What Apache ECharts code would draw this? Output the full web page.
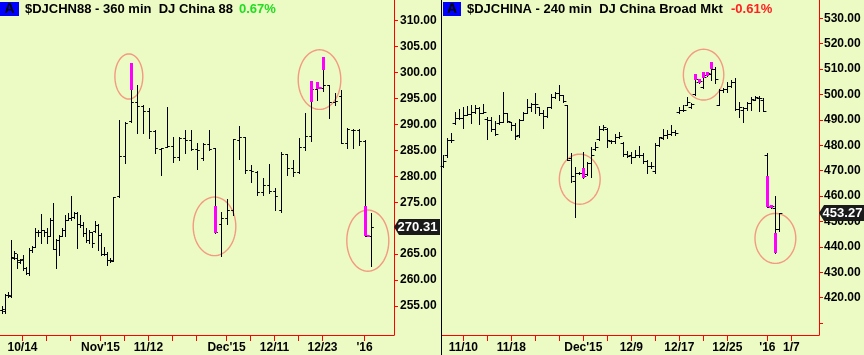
<!DOCTYPE html>
<html>
<head>
<meta charset="utf-8">
<script src="https://cdn.jsdelivr.net/npm/echarts@6/dist/echarts.min.js"></script>
<style>
html,body{margin:0;padding:0;background:#ecfac4;}
#c{width:864px;height:355px;}
</style>
</head>
<body>
<div id="c"></div>
<script>
// ---------- headers ----------
const leftTitle = '$DJCHN88 - 360 min  DJ China 88';
const leftChange = '0.67%';
const rightTitle = '$DJCHINA - 240 min  DJ China Broad Mkt';
const rightChange = '-0.61%';

// ---------- left panel ($DJCHN88, 360 min) ----------
// session index (half-session slots), then [open, high, low, close]
const leftSessions = [
  0,1,2,3,4,5,6,7,8,9,10,11,12,13,14,15,16,17,18,19,20,21,22,23,24,25,26,27,28,29,30,31,32,33,34,35,36,37,
  39,41,43,45,47,49,51,53,55,57,59,61,63,65,67,69,71,73,75,77,79,81,83,85,87,89,91,93,95,97,99,101,103,105,107,109,111,113,115,117,119,121,123
];
const leftOHLC = [
  [254.2,254.9,253.6,254.5],[254.0,257.4,253.6,257.1],[257.2,257.6,256.8,257.1],[256.9,267.7,256.8,264.4],
  [264.2,265.6,264.0,265.2],[264.2,265.0,262.3,263.9],[263.5,264.0,263.2,263.9],[264.0,264.8,261.9,262.3],
  [262.3,262.5,261.1,261.3],[261.3,266.1,261.0,265.8],[265.8,266.6,265.5,266.4],[266.4,270.0,266.4,269.3],
  [269.3,269.7,268.4,269.3],[269.3,272.7,267.2,269.7],[269.7,269.7,268.4,269.3],[269.3,270.0,267.1,268.4],
  [268.4,271.9,268.4,271.6],[271.6,274.8,265.9,266.0],[266.0,268.0,262.3,267.7],[267.7,268.7,264.8,268.4],
  [268.4,270.0,268.4,269.6],[269.6,272.5,268.4,271.6],[271.6,272.9,271.6,271.9],[271.9,276.2,271.6,272.2],
  [272.2,273.2,271.9,272.9],[272.9,273.2,266.2,270.9],[270.9,272.5,270.3,270.6],[270.6,271.1,268.4,269.0],
  [269.0,270.0,267.4,267.7],[267.7,269.7,267.1,269.3],[269.3,269.3,266.4,267.1],[269.5,271.3,269.3,270.6],
  [270.6,270.9,265.8,268.7],[268.7,269.0,264.8,265.0],[265.0,266.4,264.8,265.0],[265.0,265.5,262.9,263.9],
  [263.9,264.2,263.5,263.9],[263.7,276.1,263.7,276.1],
  [276.3,290.9,276.1,283.9],[283.9,290.5,282.6,290.3],[290.6,301.9,290.5,294.4],[294.4,297.6,288.4,293.6],
  [293.6,293.7,288.4,292.5],[292.5,293.1,287.3,288.8],[288.8,288.9,284.4,285.4],[285.3,285.4,280.2,285.4],
  [285.7,293.4,285.7,285.8],[285.8,287.6,282.8,283.8],[283.8,287.6,283.1,287.3],[287.3,288.9,284.4,287.0],
  [287.0,288.9,285.1,285.2],[285.2,286.5,281.5,285.1],[283.5,286.4,283.1,286.3],[286.3,288.9,285.1,285.2],
  [285.4,285.4,269.1,269.3],[270.9,273.2,264.6,271.9],[271.9,275.6,270.9,273.6],[273.6,287.1,272.5,287.1],
  [287.0,289.7,283.3,287.6],[287.6,287.6,280.6,281.2],[281.2,282.2,279.0,281.0],[280.8,281.0,276.4,277.0],
  [277.0,279.6,276.4,278.3],[278.3,282.3,276.8,277.2],[277.2,277.7,273.5,276.2],[273.5,284.6,273.2,284.3],
  [284.3,284.3,280.3,281.7],[281.7,283.1,280.1,280.8],[280.8,287.3,280.7,285.6],[285.6,292.3,285.1,287.8],
  [287.8,298.4,286.9,296.8],[296.8,298.1,294.7,297.0],[297.0,303.1,296.5,297.6],[297.6,297.6,291.2,294.4],
  [294.4,296.0,293.7,294.6],[295.5,296.6,286.4,286.4],[286.4,289.3,285.4,289.1],[289.0,289.1,285.4,289.0],
  [289.0,289.1,286.0,286.8],[286.8,287.0,268.4,268.4],[268.4,273.0,262.7,270.31]
];
// highlighted (magenta) bar segments: [session, from, to]
const leftHighlights = [[43,301.9,296.6],[71,274.3,269.1],[103,298.4,294.4],[105,298.1,296.8],[107,303.1,300.5],[121,274.3,268.4]];
const leftHighlightCloses = [105,121];
// annotation ellipses: [sessionFrom, sessionTo, priceTop, priceBottom]
const leftCircles = [[37.8,47.1,303.6,294.9],[63.9,78.1,276.0,264.7],[98.9,113.1,304.4,292.9],[115.1,129.1,273.5,261.7]];
const leftTickSessions = [7,15,23,33,41,49,57,65,75,83,91,99,107,121];
const leftLabelSessions = [7,33,49,75,91,107,121];
const leftLabelTexts = ['10/14',"Nov'15",'11/12',"Dec'15",'12/11','12/23',"'16"];
const leftPriceTicks = [255,260,265,270,275,280,285,290,295,300,305,310];

// ---------- right panel ($DJCHINA, 240 min) ----------
const rightSessions = [
  0,1,2,3,4,5,6,7,8,9,10,11,12,13,14,15,16,17,18,19,20,21,22,23,24,25,26,27,28,29,30,31,32,33,34,35,36,37,38,39,40,41,42,
  43,44,45,46,47,48,49,50,51,52,53,54,55,56,57,58,59,60,61,62,63,64,65,66,67,68,69,70,71,72,73,74,75,76,77,78,79,80,81,82,83,84
];
const rightOHLC = [
  [471.8,476.2,471.6,474.0],[476.0,482.7,475.5,482.1],[482.0,485.0,481.4,482.1],[488.6,493.2,488.4,490.6],
  [490.6,494.2,490.2,490.6],[490.6,495.2,486.7,491.9],[492.0,495.5,491.9,492.3],[492.3,495.9,488.6,493.2],
  [493.2,495.9,492.6,494.6],[494.6,495.2,488.4,492.8],[492.8,496.3,492.6,493.2],[490.5,491.3,482.4,490.0],
  [490.0,491.3,485.8,486.3],[486.3,489.7,484.1,484.5],[488.6,491.9,488.4,489.3],[489.3,501.1,489.3,492.6],
  [492.6,492.8,489.3,489.7],[489.3,489.3,486.0,488.0],[488.0,488.6,482.4,483.7],[484.0,490.2,483.4,490.0],
  [490.0,493.2,490.0,492.8],[492.8,498.1,492.6,495.2],[495.2,496.8,493.6,496.3],[496.3,500.5,492.6,496.3],
  [495.0,495.2,491.9,492.6],[492.6,493.9,486.7,491.5],[491.5,495.2,491.0,494.9],[494.9,500.2,494.6,499.1],
  [499.1,501.1,498.5,500.5],[500.5,503.7,497.8,499.8],[499.8,499.8,497.2,497.6],[495.9,495.9,474.2,474.2],
  [475.0,476.8,465.7,468.0],[466.0,471.6,451.6,469.0],[469.0,469.6,468.7,469.2],[469.0,477.5,467.2,468.0],
  [468.5,473.5,468.3,472.9],[472.9,479.5,467.4,476.2],[478.5,481.4,478.1,479.2],[482.5,487.6,482.1,486.3],
  [486.3,488.0,486.0,487.3],[486.5,486.7,479.2,482.1],[481.5,482.1,480.8,481.7],[481.7,484.5,480.8,483.1],
  [483.1,485.4,482.7,483.7],[481.0,481.4,475.8,476.4],[476.4,477.9,475.3,475.8],[476.0,477.5,473.2,475.5],
  [475.5,478.1,475.3,476.2],[476.2,479.7,475.5,476.2],[476.0,476.8,473.2,474.0],[474.0,474.2,469.0,471.8],
  [471.8,473.6,471.0,471.8],[470.0,480.8,469.2,480.1],[480.1,483.4,479.7,483.1],[483.0,486.3,482.3,484.1],
  [484.0,486.0,482.7,484.5],[484.5,488.0,484.1,485.4],[485.4,486.0,484.1,485.0],[493.0,495.2,492.6,493.9],
  [493.9,495.9,493.3,493.9],[496.0,498.9,495.9,497.2],[495.0,496.5,494.6,496.3],[500.0,508.1,499.8,506.0],
  [505.0,506.0,504.4,505.5],[503.0,509.0,502.4,507.0],[507.5,509.0,507.3,508.5],[508.0,512.9,505.7,510.0],
  [510.0,510.7,504.7,506.0],[496.0,502.0,495.9,501.8],[501.8,502.4,501.1,502.0],[502.0,505.1,501.1,503.4],
  [503.4,505.7,503.1,505.1],[505.0,506.4,493.9,494.2],[494.2,497.2,491.3,495.2],[494.0,495.2,489.3,494.6],
  [494.6,497.2,493.9,496.8],[496.8,498.9,493.9,498.1],[498.0,499.4,497.8,498.9],[498.5,499.4,493.3,498.5],
  [498.0,498.5,493.3,493.5],[476.0,476.8,455.8,455.8],[455.8,456.5,455.5,456.0],[455.5,460.0,437.7,447.0],
  [447.0,453.2,446.4,453.27]
];
const rightHighlights = [[35,470.9,467.3],[63,508.1,505.7],[64,506.0,504.4],[65,509.0,506.4],[66,509.0,507.3],[67,512.9,509.9],[81,467.9,455.8],[82,456.5,455.4],[83,445.6,437.7]];
const rightHighlightCloses = [81];
const rightCircles = [[29.0,39.2,476.5,456.8],[60.0,70.1,517.8,497.8],[77.9,88.1,453.2,433.5]];
const rightTickSessions = [5,11,17,23,29,35,41,47,53,59,65,71,81,87];
const rightLabelSessions = [5,17,35,47,59,71,81,87];
const rightLabelTexts = ['11/10','11/18',"Dec'15",'12/9','12/17','12/25',"'16",'1/7'];
const rightPriceTicks = [410,420,430,440,450,460,470,480,490,500,510,520,530];
const rightPriceLabels = [420,430,440,450,460,470,480,490,500,510,520,530];

// ---------- rendering ----------
const FONT = '"Liberation Sans", Arial, sans-serif';
const RED = '#ff0000';
const MAGENTA = '#ff00ff';

function ohlcRender(params, api) {
  const s = api.value(0);
  const o = api.value(1), h = api.value(2), l = api.value(3), c = api.value(4);
  const ph = api.coord([s, h]), pl = api.coord([s, l]);
  const po = api.coord([s, o]), pc = api.coord([s, c]);
  const slotPx = api.size([1, 0])[0];
  const t = Math.max(1.5, slotPx * 0.6);
  const cx = Math.round(ph[0]) + 0.5;
  const yy = v => Math.round(v) + 0.5;
  const st = {stroke: '#000', lineWidth: 1};
  return {type: 'group', children: [
    {type: 'line', shape: {x1: cx, y1: Math.round(ph[1]), x2: cx, y2: Math.round(pl[1]) + 1}, style: st},
    {type: 'line', shape: {x1: cx - 0.5 - t, y1: yy(po[1]), x2: cx - 0.5, y2: yy(po[1])}, style: st},
    {type: 'line', shape: {x1: cx + 0.5, y1: yy(pc[1]), x2: cx + 0.5 + t, y2: yy(pc[1])}, style: st}
  ]};
}

function makeHighlightRender(ohlcMap, closeList) {
  return function (params, api) {
    const s = api.value(0), a = api.value(1), b = api.value(2);
    const p1 = api.coord([s, a]), p2 = api.coord([s, b]);
    const x = Math.round(p1[0]);
    const slotPx = api.size([1, 0])[0];
    const t = Math.max(1.5, slotPx * 0.6);
    const children = [
      {type: 'rect', shape: {x: x - 1, y: Math.round(p1[1]), width: 3, height: Math.max(2, Math.round(p2[1]) - Math.round(p1[1]))}, style: {fill: MAGENTA}}
    ];
    if (closeList.indexOf(s) >= 0 && ohlcMap[s]) {
      const pc = api.coord([s, ohlcMap[s][3]]);
      children.push({type: 'rect', shape: {x: x + 2, y: Math.round(pc[1]) - 1, width: t + 1, height: 2}, style: {fill: MAGENTA}});
    }
    return {type: 'group', children};
  };
}

function ellipseRender(params, api) {
  const a = api.coord([api.value(0), api.value(2)]);
  const b = api.coord([api.value(1), api.value(3)]);
  const cx = (a[0] + b[0]) / 2, cy = (a[1] + b[1]) / 2;
  const rx = Math.abs(b[0] - a[0]) / 2, ry = Math.abs(b[1] - a[1]) / 2;
  const pts = [];
  for (let i = 0; i < 72; i++) {
    const t = i / 72 * Math.PI * 2;
    pts.push([cx + rx * Math.cos(t), cy + ry * Math.sin(t)]);
  }
  return {type: 'polygon', shape: {points: pts}, style: {fill: 'none', stroke: '#f39a80', lineWidth: 1.4}};
}

function tagRender(params, api) {
  const p = api.coord([api.value(0), api.value(1)]);
  const x0 = params.coordSys.x + params.coordSys.width;
  const y = Math.round(p[1]);
  const w = 46, hh = 8;
  return {type: 'group', children: [
    {type: 'polygon', shape: {points: [[x0, y], [x0 + 5, y - hh], [x0 + w, y - hh], [x0 + w, y + hh], [x0 + 5, y + hh]]},
      style: {fill: '#1a1a1a'}},
    {type: 'text', x: x0 + 23.5, y: y + 0.5,
      style: {text: api.value(1).toFixed(2), fill: '#ffffff', font: 'bold 13px ' + FONT, align: 'center', verticalAlign: 'middle'}}
  ]};
}

function toMap(sessions, ohlc) {
  const m = {};
  sessions.forEach((s, i) => { m[s] = ohlc[i]; });
  return m;
}

function xAxisCfg(gi, min, max, ticks, labelS, labelT) {
  return {
    gridIndex: gi, type: 'value', min: min, max: max, position: 'bottom',
    axisLine: {show: true, onZero: false, lineStyle: {color: RED, width: 1}},
    axisTick: {show: true, customValues: ticks, length: 6, lineStyle: {color: RED, width: 1}},
    axisLabel: {show: true, customValues: labelS, margin: 7,
      formatter: v => { const i = labelS.indexOf(v); return i >= 0 ? labelT[i] : ''; },
      color: '#000', fontWeight: 'bold', fontSize: 12, fontFamily: FONT},
    splitLine: {show: false}
  };
}
function yAxisCfg(gi, min, max, ticks, labels, margin) {
  return {
    gridIndex: gi, type: 'value', min: min, max: max, position: 'right', scale: true,
    axisLine: {show: true, onZero: false, lineStyle: {color: RED, width: 1}},
    axisTick: {show: true, customValues: ticks, length: 4, lineStyle: {color: RED, width: 1}},
    axisLabel: {show: true, customValues: labels, margin: margin,
      formatter: v => Number(v).toFixed(2),
      color: '#000', fontWeight: 'bold', fontSize: 12, fontFamily: FONT},
    splitLine: {show: false}
  };
}

const leftMap = toMap(leftSessions, leftOHLC);
const rightMap = toMap(rightSessions, rightOHLC);
const leftBars = leftSessions.map((s, i) => [s].concat(leftOHLC[i]));
const rightBars = rightSessions.map((s, i) => [s].concat(rightOHLC[i]));
const leftLast = leftSessions.length - 1, rightLast = rightSessions.length - 1;

const chart = echarts.init(document.getElementById('c'), null, {renderer: 'canvas'});
chart.setOption({
  animation: false,
  backgroundColor: '#ecfac4',
  grid: [
    {left: 0, top: 0, width: 394, height: 335, containLabel: false, outerBoundsMode: 'none'},
    {left: 442, top: 0, width: 377, height: 335, containLabel: false, outerBoundsMode: 'none'}
  ],
  xAxis: [
    xAxisCfg(0, -0.5, 130.83, leftTickSessions, leftLabelSessions, leftLabelTexts),
    xAxisCfg(1, -0.33, 93.9, rightTickSessions, rightLabelSessions, rightLabelTexts)
  ],
  yAxis: [
    yAxisCfg(0, 249.4, 314.0, leftPriceTicks, leftPriceTicks, 6),
    yAxisCfg(1, 405.3, 537.2, rightPriceTicks, rightPriceLabels, 5)
  ],
  graphic: [
    {type: 'line', shape: {x1: 441.5, y1: 0, x2: 441.5, y2: 355}, style: {stroke: '#000', lineWidth: 1}, z: 10},
    {type: 'rect', shape: {x: 0, y: 2, width: 19, height: 14}, style: {fill: '#0000ff'}},
    {type: 'text', x: 9.5, y: 9.5, style: {text: 'A', font: 'bold 14px ' + FONT, fill: '#000', align: 'center', verticalAlign: 'middle'}},
    {type: 'text', x: 25, y: 9.5, style: {text: leftTitle, font: 'bold 13px ' + FONT, fill: '#000', align: 'left', verticalAlign: 'middle'}},
    {type: 'text', x: 239, y: 9.5, style: {text: leftChange, font: 'bold 13px ' + FONT, fill: '#22dd22', align: 'left', verticalAlign: 'middle'}},
    {type: 'rect', shape: {x: 443, y: 2, width: 18, height: 14}, style: {fill: '#0000ff'}},
    {type: 'text', x: 452, y: 9.5, style: {text: 'A', font: 'bold 14px ' + FONT, fill: '#000', align: 'center', verticalAlign: 'middle'}},
    {type: 'text', x: 467, y: 9.5, style: {text: rightTitle, font: 'bold 13px ' + FONT, fill: '#000', align: 'left', verticalAlign: 'middle'}},
    {type: 'text', x: 731, y: 9.5, style: {text: rightChange, font: 'bold 13px ' + FONT, fill: '#ff2020', align: 'left', verticalAlign: 'middle'}}
  ],
  series: [
    {type: 'custom', xAxisIndex: 0, yAxisIndex: 0, renderItem: ellipseRender, data: leftCircles, z: 1, silent: true, clip: false,
      encode: {x: [0, 1], y: [2, 3]}},
    {type: 'custom', xAxisIndex: 0, yAxisIndex: 0, renderItem: ohlcRender, data: leftBars, z: 2, silent: true,
      encode: {x: 0, y: [1, 2, 3, 4]}},
    {type: 'custom', xAxisIndex: 0, yAxisIndex: 0, renderItem: makeHighlightRender(leftMap, leftHighlightCloses), data: leftHighlights, z: 3, silent: true,
      encode: {x: 0, y: [1, 2]}},
    {type: 'custom', xAxisIndex: 0, yAxisIndex: 0, renderItem: tagRender, data: [[leftSessions[leftLast], leftOHLC[leftLast][3]]], z: 5, silent: true, clip: false,
      encode: {x: 0, y: 1}},
    {type: 'custom', xAxisIndex: 1, yAxisIndex: 1, renderItem: ellipseRender, data: rightCircles, z: 1, silent: true, clip: false,
      encode: {x: [0, 1], y: [2, 3]}},
    {type: 'custom', xAxisIndex: 1, yAxisIndex: 1, renderItem: ohlcRender, data: rightBars, z: 2, silent: true,
      encode: {x: 0, y: [1, 2, 3, 4]}},
    {type: 'custom', xAxisIndex: 1, yAxisIndex: 1, renderItem: makeHighlightRender(rightMap, rightHighlightCloses), data: rightHighlights, z: 3, silent: true,
      encode: {x: 0, y: [1, 2]}},
    {type: 'custom', xAxisIndex: 1, yAxisIndex: 1, renderItem: tagRender, data: [[rightSessions[rightLast], rightOHLC[rightLast][3]]], z: 5, silent: true, clip: false,
      encode: {x: 0, y: 1}}
  ]
});
</script>
</body>
</html>
